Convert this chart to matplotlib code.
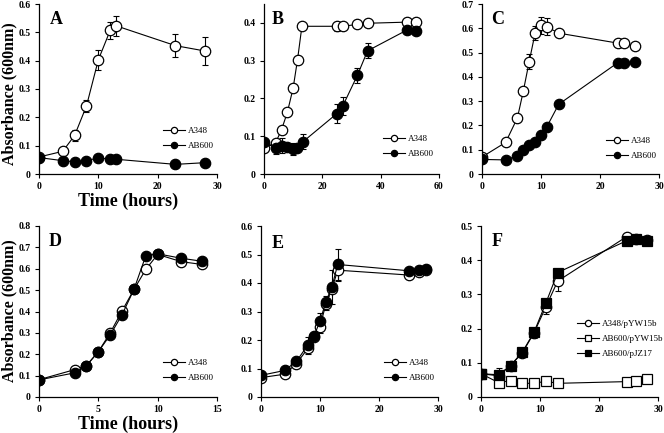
import numpy as np
import matplotlib.pyplot as plt

plt.rcParams['font.family'] = ['Liberation Serif', 'DejaVu Serif']

# ---- data ----
# A
a_t = [0, 4, 6, 8, 10, 12, 13, 23, 28]
a_wt = [0.060, 0.080, 0.136, 0.240, 0.403, 0.507, 0.523, 0.453, 0.434]
a_wt_err = [0, 0, 0.018, 0.022, 0.036, 0.030, 0.035, 0.040, 0.048]
a_mut = [0.058, 0.047, 0.043, 0.047, 0.057, 0.052, 0.052, 0.034, 0.040]
a_mut_err = [0, 0, 0, 0, 0, 0, 0, 0, 0]

# B
b_t_wt = [0, 4, 6, 8, 10, 11.5, 13, 25, 27, 32, 35.5, 49, 52]
b_wt = [0.069, 0.083, 0.117, 0.163, 0.228, 0.303, 0.391, 0.391, 0.391, 0.396, 0.399, 0.402, 0.403]
b_wt_err = [0, 0, 0, 0, 0, 0, 0, 0.012, 0, 0, 0, 0.010, 0.008]
b_t_mut = [0, 4, 6, 8, 10, 11.3, 13.3, 25, 27, 32, 35.5, 49, 52]
b_mut = [0.085, 0.068, 0.075, 0.072, 0.066, 0.070, 0.085, 0.160, 0.180, 0.261, 0.326, 0.381, 0.378]
b_mut_err = [0, 0.015, 0.020, 0, 0.015, 0, 0.020, 0.025, 0.025, 0.020, 0.020, 0.010, 0.008]

# C
c_t = [0, 4, 6, 7, 8, 9, 10, 11, 13, 23, 24, 26]
c_wt = [0.070, 0.130, 0.231, 0.341, 0.463, 0.580, 0.613, 0.606, 0.580, 0.539, 0.539, 0.525]
c_wt_err = [0, 0, 0.010, 0, 0.030, 0.030, 0.035, 0.035, 0.010, 0, 0, 0.010]
c_mut = [0.060, 0.058, 0.075, 0.097, 0.120, 0.133, 0.162, 0.195, 0.287, 0.458, 0.458, 0.460]
c_mut_err = [0] * 12

# D
d_t = [0, 3, 4, 5, 6, 7, 8, 9, 10, 12, 13.75]
d_wt = [0.081, 0.128, 0.147, 0.212, 0.300, 0.403, 0.503, 0.597, 0.667, 0.633, 0.620]
d_mut = [0.080, 0.113, 0.147, 0.212, 0.290, 0.385, 0.503, 0.661, 0.670, 0.649, 0.635]

# E
e_t = [0, 4, 6, 8, 9, 10, 11, 12, 13, 25, 26.7, 27.9]
e_wt = [0.068, 0.080, 0.117, 0.172, 0.210, 0.246, 0.327, 0.378, 0.445, 0.428, 0.440, 0.445]
e_wt_err = [0, 0, 0, 0.020, 0, 0.020, 0.020, 0, 0.037, 0, 0, 0]
e_mut = [0.076, 0.093, 0.125, 0.184, 0.215, 0.266, 0.335, 0.385, 0.465, 0.443, 0.445, 0.448]
e_mut_err = [0, 0, 0, 0.025, 0, 0.030, 0.020, 0.060, 0.055, 0, 0, 0]

# F
f_t = [0, 3, 5, 7, 9, 11, 13, 24.7, 26.3, 28.1]
f_wt = [0.068, 0.062, 0.092, 0.129, 0.188, 0.264, 0.339, 0.469, 0.463, 0.458]
f_wt_err = [0.015, 0, 0, 0.012, 0.015, 0.020, 0.030, 0, 0, 0]
f_vec = [0.068, 0.042, 0.048, 0.040, 0.040, 0.046, 0.040, 0.045, 0.047, 0.053]
f_comp = [0.068, 0.065, 0.092, 0.131, 0.190, 0.275, 0.364, 0.457, 0.463, 0.456]
f_comp_err = [0, 0.020, 0, 0, 0, 0, 0, 0, 0, 0]

W, H = 664, 433
fig = plt.figure(figsize=(W / 100, H / 100), dpi=100)


def px_axes(l, r, t, b):
    return fig.add_axes([l / W, 1 - b / H, (r - l) / W, (b - t) / H])


def series(ax, x, y, err, filled, marker='o'):
    x = np.array(x, float)
    y = np.array(y, float)
    if err is not None:
        e = np.array(err, float)
        m = e > 0
        if m.any():
            ax.errorbar(x[m], y[m], yerr=e[m], fmt='none', ecolor='black',
                        elinewidth=0.8, capsize=2.5, capthick=0.8, zorder=1)
    line, = ax.plot(x, y, color='black', lw=0.8, marker=marker, ms=7.5,
                    mfc='black' if filled else 'white', mec='black', mew=0.9, zorder=2)
    return line


def style(ax, xlim, xticks, ylim, yticks):
    ax.set_xlim(xlim)
    ax.set_ylim(ylim)
    ax.set_xticks(xticks)
    ax.set_yticks(yticks)
    ax.set_xticklabels(['%g' % v for v in xticks])
    ax.set_yticklabels(['%g' % v for v in yticks])
    for s in ['top', 'right']:
        ax.spines[s].set_visible(False)
    for s in ['left', 'bottom']:
        ax.spines[s].set_linewidth(0.9)
    ax.tick_params(direction='out', length=3, width=0.8, labelsize=7, pad=3)
    for lab in ax.get_xticklabels() + ax.get_yticklabels():
        lab.set_fontweight('bold')


def legend(ax, handles, x_px, y_px, labels):
    ax.legend(handles, labels, loc='upper left',
              bbox_to_anchor=(x_px / W, 1 - (y_px - 5) / H),
              bbox_transform=fig.transFigure, frameon=False, fontsize=6.5,
              markerscale=0.6, handlelength=2.4, handletextpad=0.4,
              labelspacing=0.75, borderpad=0, borderaxespad=0)


def letter(x_px, y_px, s):
    fig.text(x_px / W, 1 - y_px / H, s, fontsize=13, fontweight='bold',
             ha='center', va='center')


def ylab(y_px):
    fig.text(9 / W, 1 - y_px / H, 'Absorbance (600nm)', fontsize=11.5,
             fontweight='bold', rotation=90, ha='center', va='center')


# A
ax = px_axes(39, 217, 4, 174)
h1 = series(ax, a_t, a_wt, a_wt_err, False)
h2 = series(ax, a_t, a_mut, a_mut_err, True)
style(ax, (0, 30), [0, 10, 20, 30], (0, 0.6), [0, 0.1, 0.2, 0.3, 0.4, 0.5, 0.6])
legend(ax, [h1, h2], 163, 132, ['A348', 'AB600'])
ax.set_xlabel('Time (hours)', fontsize=13, fontweight='bold', labelpad=1)
ylab(94)
letter(56, 20, 'A')

# B
ax = px_axes(264, 439, 4, 174)
h1 = series(ax, b_t_wt, b_wt, b_wt_err, False)
h2 = series(ax, b_t_mut, b_mut, b_mut_err, True)
style(ax, (0, 60), [0, 20, 40, 60], (0, 0.45), [0, 0.1, 0.2, 0.3, 0.4])
legend(ax, [h1, h2], 383, 140, ['A348', 'AB600'])
letter(278, 20, 'B')

# C
ax = px_axes(482, 659, 4, 174)
h1 = series(ax, c_t, c_wt, c_wt_err, False)
h2 = series(ax, c_t, c_mut, c_mut_err, True)
style(ax, (0, 30), [0, 10, 20, 30], (0, 0.7), [0, 0.1, 0.2, 0.3, 0.4, 0.5, 0.6, 0.7])
legend(ax, [h1, h2], 606, 142, ['A348', 'AB600'])
letter(498, 20, 'C')

# D
ax = px_axes(39, 217, 226, 397)
h1 = series(ax, d_t, d_wt, None, False)
h2 = series(ax, d_t, d_mut, None, True)
style(ax, (0, 15), [0, 5, 10, 15], (0, 0.8), [0, 0.1, 0.2, 0.3, 0.4, 0.5, 0.6, 0.7, 0.8])
legend(ax, [h1, h2], 163, 364, ['A348', 'AB600'])
ax.set_xlabel('Time (hours)', fontsize=13, fontweight='bold', labelpad=1)
ylab(311)
letter(55, 242, 'D')

# E
ax = px_axes(261, 438, 226, 397)
h1 = series(ax, e_t, e_wt, e_wt_err, False)
h2 = series(ax, e_t, e_mut, e_mut_err, True)
style(ax, (0, 30), [0, 10, 20, 30], (0, 0.6), [0, 0.1, 0.2, 0.3, 0.4, 0.5, 0.6])
legend(ax, [h1, h2], 384, 364, ['A348', 'AB600'])
letter(278, 243, 'E')

# F
ax = px_axes(481, 658, 226, 397)
h1 = series(ax, f_t, f_wt, f_wt_err, False)
h2 = series(ax, f_t, f_vec, None, False, marker='s')
h3 = series(ax, f_t, f_comp, f_comp_err, True, marker='s')
style(ax, (0, 30), [0, 10, 20, 30], (0, 0.5), [0, 0.1, 0.2, 0.3, 0.4, 0.5])
legend(ax, [h1, h2, h3], 577, 325, ['A348/pYW15b', 'AB600/pYW15b', 'AB600/pJZ17'])
letter(497, 242, 'F')

fig.savefig('out.png', dpi=100)
